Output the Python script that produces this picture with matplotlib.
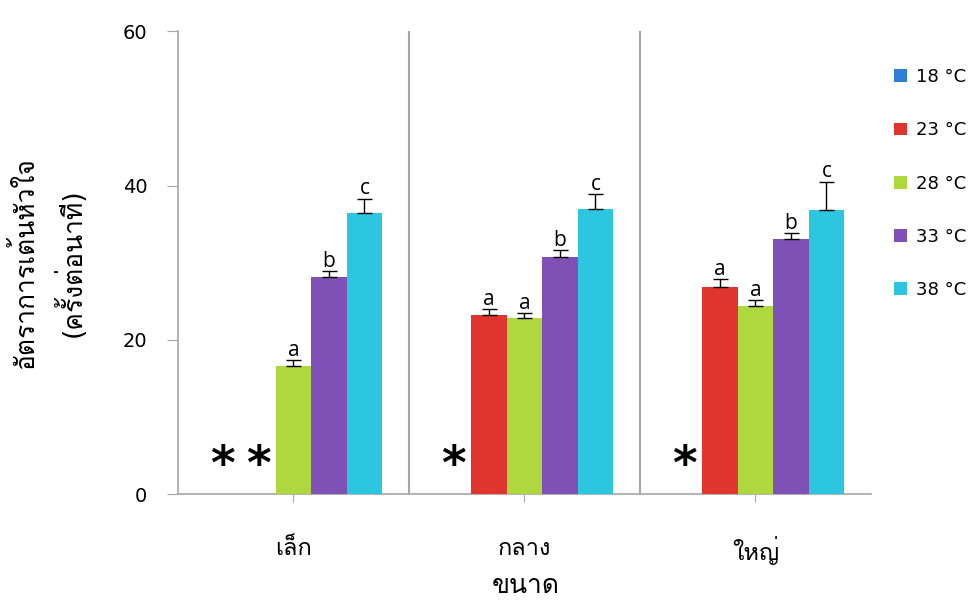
import numpy as np
import matplotlib
matplotlib.use('Agg')
import matplotlib.pyplot as plt
from matplotlib import font_manager
from matplotlib.ft2font import FT2Font

# หา font ที่มีอักษรไทย
thai_font = None
for f in font_manager.fontManager.ttflist:
    try:
        if 0x0E01 in FT2Font(f.fname).get_charmap():
            thai_font = f.name
            break
    except Exception:
        pass
fams = ['DejaVu Sans'] + ([thai_font] if thai_font else [])
plt.rcParams['font.family'] = fams

sizes = ['เล็ก', 'กลาง', 'ใหญ่']
temps = ['18 °C', '23 °C', '28 °C', '33 °C', '38 °C']
colors = ['#2f7ed8', '#e0352f', '#afd73e', '#7f50b6', '#2dc6e0']

# ค่าเฉลี่ย (nan = ไม่มีข้อมูล)
t18 = [np.nan, np.nan, np.nan]
t23 = [np.nan, 23.3, 26.9]
t28 = [16.6, 22.8, 24.4]
t33 = [28.2, 30.8, 33.1]
t38 = [36.5, 37.0, 36.8]
# error bar (ขึ้นอย่างเดียว)
e18 = [0, 0, 0]
e23 = [0, 0.7, 1.0]
e28 = [0.8, 0.7, 0.8]
e33 = [0.7, 0.8, 0.7]
e38 = [1.8, 1.9, 3.7]
# ตัวอักษรบอกนัยสำคัญ
l23 = ['', 'a', 'a']
l28 = ['a', 'a', 'a']
l33 = ['b', 'b', 'b']
l38 = ['c', 'c', 'c']
# เครื่องหมาย * (ไม่มีข้อมูล)
stars = [['*', '*', '', '', ''], ['*', '', '', '', ''], ['*', '', '', '', '']]

means = [t18, t23, t28, t33, t38]
errs = [e18, e23, e28, e33, e38]
letters = [['', '', ''], l23, l28, l33, l38]

fig = plt.figure(figsize=(9.71, 6.08), dpi=100)
ax = fig.add_axes([0.1833, 0.1867, 0.7137, 0.7623])

x = np.arange(len(sizes))
w = 0.1535
for i in range(5):
    xs = x + (i - 2) * w
    m = np.array(means[i], dtype=float)
    e = np.array(errs[i], dtype=float)
    ax.bar(xs, np.nan_to_num(m), w, color=colors[i], label=temps[i], zorder=3)
    ok = ~np.isnan(m)
    ax.errorbar(xs[ok], m[ok], yerr=[np.zeros(ok.sum()), e[ok]], fmt='none',
                ecolor='black', elinewidth=1, capsize=5.4, capthick=1, zorder=4)
    for j in range(3):
        if letters[i][j] and ok[j]:
            ax.text(xs[j], m[j] + e[j] - 0.1, letters[i][j], ha='center', va='bottom',
                    fontsize=15, family=['Open Sans', 'DejaVu Sans'])
        if stars[j][i]:
            ax.text(xs[j], 3.6, '*', ha='center', va='center', fontsize=34,
                    fontweight='bold')

# เส้นแบ่งระหว่างกลุ่ม
for b in [0.5, 1.5]:
    ax.axvline(b, color='#a6a6a6', lw=1.5, zorder=1)

ax.set_xlim(-0.5, 2.5)
ax.set_ylim(0, 60)
ax.set_yticks([0, 20, 40, 60])
ax.set_xticks(x)
ax.set_xticklabels(sizes, fontsize=17)
ax.tick_params(axis='y', labelsize=14, length=8, color='#a6a6a6', pad=14)
ax.tick_params(axis='x', length=6, color='#a6a6a6', pad=24)
for s in ['top', 'right']:
    ax.spines[s].set_visible(False)
for s in ['left', 'bottom']:
    ax.spines[s].set_color('#a6a6a6')
    ax.spines[s].set_linewidth(1.2)

fig.text(526 / 971, 1 - 586 / 608, 'ขนาด', fontsize=19, ha='center', va='center')
ax.set_ylabel('อัตราการเต้นหัวใจ\n(ครั้งต่อนาที)', fontsize=19, labelpad=26, linespacing=1.6)

ax.legend(loc='upper left', bbox_to_anchor=(1.01, 0.955), frameon=False, fontsize=13,
          handlelength=0.7, handleheight=0.7, handletextpad=0.5, labelspacing=1.95)

fig.savefig('out.png', dpi=100)
